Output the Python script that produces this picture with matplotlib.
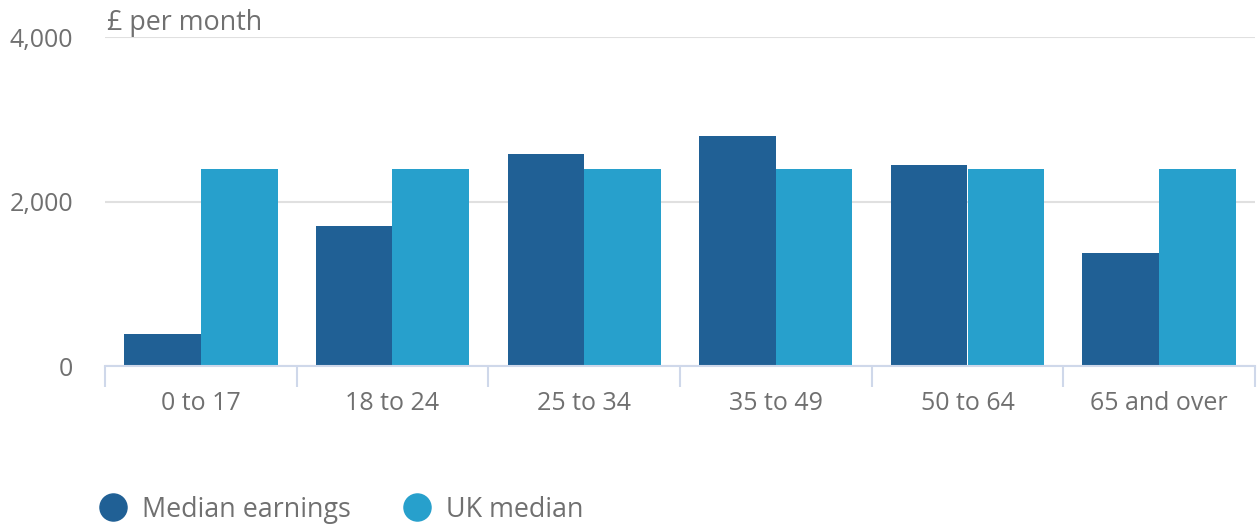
import matplotlib
matplotlib.use("Agg")
import matplotlib.pyplot as plt
import numpy as np
from matplotlib.lines import Line2D

categories = ["0 to 17", "18 to 24", "25 to 34", "35 to 49", "50 to 64", "65 and over"]
median_earnings = [390, 1700, 2580, 2800, 2440, 1370]
uk_median = [2390, 2390, 2390, 2390, 2390, 2390]
series_names = ["Median earnings", "UK median"]
yticks = [0, 2000, 4000]
ytick_labels = ["0", "2,000", "4,000"]

plt.rcParams['font.family'] = ['Open Sans', 'DejaVu Sans']
grey = "#707070"
dark = "#206095"
light = "#27a0cc"
axis_col = "#cfd8ea"

fig = plt.figure(figsize=(12.57, 5.28), dpi=100)
ax = fig.add_axes([105/1257, 1-366/528, 1150/1257, (366-37)/528])

x = np.arange(len(categories))
w = 0.4
ax.bar(x - w/2, median_earnings, width=w, color=dark, zorder=3)
ax.bar(x + w/2, uk_median, width=w, color=light, zorder=3)

ax.set_xlim(-0.5, len(categories) - 0.5)
ax.set_ylim(0, 4000)
ax.set_yticks(yticks)
ax.set_yticklabels(ytick_labels, fontsize=18, color=grey)
ax.yaxis.grid(True, color="#e0e0e0", linewidth=1.5, zorder=0)
ax.tick_params(axis='y', length=0, pad=23)

ax.set_xticks(x)
ax.set_xticklabels(categories, fontsize=18, color=grey)
ax.tick_params(axis='x', length=0, pad=18)
# category boundary ticks
ax.set_xticks(np.arange(len(categories) + 1) - 0.5, minor=True)
ax.tick_params(axis='x', which='minor', length=15, width=1.5, color=axis_col)

for s in ['top', 'right', 'left']:
    ax.spines[s].set_visible(False)
ax.spines['bottom'].set_color(axis_col)
ax.spines['bottom'].set_linewidth(1.5)
ax.spines['bottom'].set_zorder(4)

fig.text(107/1257, 1-30/528, "£ per month", fontsize=19.4, color=grey, ha='left', va='baseline')

handles = [Line2D([], [], marker='o', linestyle='none', markersize=19.5, color=c) for c in (dark, light)]
fig.legend(handles, series_names, loc='lower left', bbox_to_anchor=(73/1257, -0.038),
           frameon=False, ncol=2, fontsize=19.4, labelcolor=grey, handletextpad=0.47,
           columnspacing=1.85, handlelength=1.2)

fig.savefig("out.png", dpi=100)
